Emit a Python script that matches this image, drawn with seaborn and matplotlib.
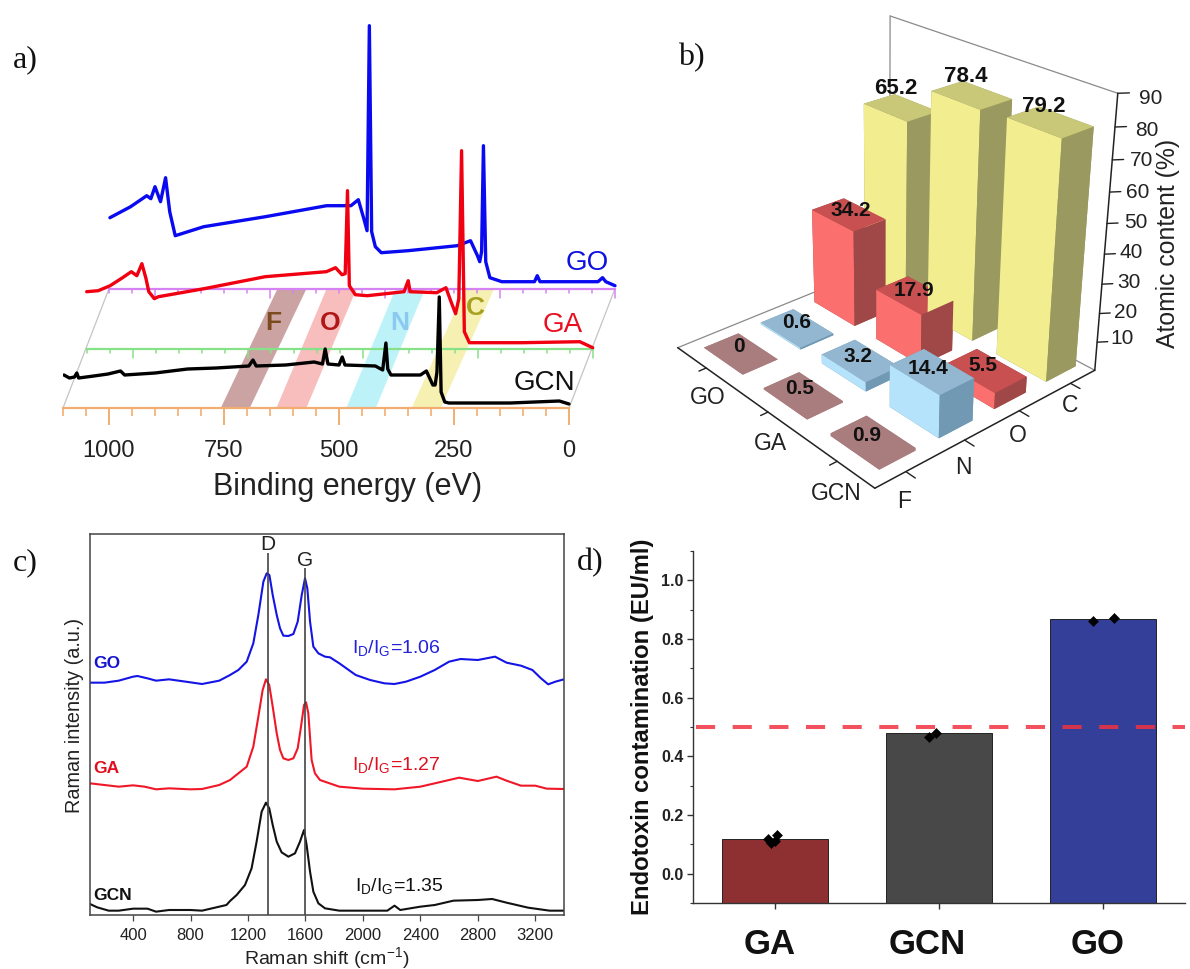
import numpy as np
import pandas as pd
import matplotlib
matplotlib.use('Agg')
import matplotlib.pyplot as plt
from matplotlib.ticker import MultipleLocator, FixedLocator
from matplotlib.transforms import ScaledTranslation
import seaborn as sns

sns.set_theme(style='white')
plt.rcParams['font.family'] = ['Liberation Sans', 'DejaVu Sans']
plt.rcParams['mathtext.default'] = 'regular'

W, H = 1190, 969
fig = plt.figure(figsize=(W / 100, H / 100), dpi=100, facecolor='white')

def place(l, t, r, b, **kw):
    return fig.add_axes([l / W, 1 - b / H, (r - l) / W, (b - t) / H], **kw)

def label(px, py, s, **kw):
    kw.setdefault('ha', 'center')
    kw.setdefault('va', 'center')
    return fig.text(px / W, 1 - py / H, s, **kw)

# ---------- panel a data: binding energy (eV), intensity (a.u.)
gcn_be = [1098,1086,1075,1070,1066,1033,1002,975,966,900,829,767,696,687,680,616,554,536,530,524,500,493,487,421,405,398,394,387,323,310,296,291,287,282,278,270,261,128,21,0]
gcn_xps = [33,30,31,35,30,32,34,37,33,35,39,40,42,48,42,43,46,44,59,44,43,51,43,42,38,65,39,33,33,37,23,23,36,111,16,6,5,5,7,4]
ga_be = [1100,1075,1049,1022,1003,991,980,971,965,953,944,845,712,579,559,545,538,533,529,516,490,410,401,397,339,319,308,298,291,285,279,268,153,28,0]
ga_xps = [57,58,63,71,77,73,85,70,57,50,52,60,72,77,81,74,75,158,63,54,53,57,68,57,56,61,47,35,50,198,17,6,6,7,1]
go_be = [1098,1053,1018,1009,1000,988,977,968,956,894,760,627,574,558,546,539,534,529,521,508,450,343,314,299,294,290,286,281,272,246,175,169,163,37,27,20,0]
go_xps = [71,82,93,90,102,87,111,77,53,62,72,83,83,89,70,58,263,57,42,36,38,43,48,33,27,37,143,27,11,7,7,13,7,7,11,7,3]
layer_names = ['GCN', 'GA', 'GO']
layer_shift_be = [0, -51.5, -100]
layer_shift_int = [0, 59.3, 119.3]
band_names = ['F', 'O', 'N', 'C']
band_low = [694, 571, 420, 279]
band_high = [757, 636, 484, 342]
band_top_shift = [122, 108, 106, 115]
a_ticks = [0, 250, 500, 750, 1000]
a_minor = list(range(0, 1101, 50))

# ---------- panel b data
b_rows = ['GCN', 'GA', 'GO']
b_cols = ['F', 'N', 'O', 'C']
b_gcn = [0.9, 14.4, 5.5, 79.2]
b_ga = [0.5, 3.2, 17.9, 78.4]
b_go = [0.0, 0.6, 34.2, 65.2]

# ---------- panel c data: Raman shift (cm-1), intensity (a.u.)
go_wn = [100,200,300,400,430,500,560,650,750,880,1000,1075,1133,1191,1237,1272,1307,1330,1349,1372,1400,1423,1446,1481,1516,1546,1574,1597,1613,1632,1655,1690,1736,1771,1836,1950,2050,2150,2220,2300,2400,2500,2600,2680,2800,2920,3000,3100,3180,3240,3290,3340,3400]
go_ram = [697,697,703,715,717,710,703,707,701,693,703,720,735,760,815,900,1000,1025,1020,960,900,860,838,837,843,880,960,1010,980,880,805,785,775,773,755,720,705,695,693,700,715,735,760,768,765,775,757,748,735,710,692,700,707]
ga_wn = [100,200,300,400,480,560,650,800,880,1000,1075,1133,1191,1237,1272,1302,1325,1348,1372,1400,1423,1446,1481,1516,1546,1569,1590,1604,1620,1643,1666,1701,1748,1836,2000,2220,2400,2550,2670,2800,2930,3000,3100,3200,3280,3400]
ga_ram = [395,390,385,389,385,377,380,377,378,390,405,425,445,505,595,675,707,690,625,545,495,470,465,470,500,565,630,638,605,465,425,405,398,385,379,377,385,400,412,402,415,403,388,388,379,378]
gcn_wn = [100,150,230,300,400,500,560,650,800,880,950,1050,1075,1121,1179,1225,1260,1295,1325,1348,1372,1400,1434,1481,1527,1562,1590,1608,1632,1655,1690,1736,1836,2000,2170,2220,2260,2400,2500,2630,2800,2900,3000,3150,3300,3400]
gcn_ram = [33,23,13,13,19,19,10,15,15,13,20,30,42,60,90,140,220,310,337,320,270,220,188,175,185,220,255,210,130,70,35,20,13,13,13,28,15,25,30,43,45,48,37,22,13,13]
c_ticks = [400, 800, 1200, 1600, 2000, 2400, 2800, 3200]
ratios = ['1.06', '1.27', '1.35']

# ---------- panel d data
d_samples = ['GA', 'GCN', 'GO']
d_means = [0.117, 0.478, 0.869]
d_colors = ['#8E3032', '#484848', '#333F99']
d_px = [-0.041, -0.022, 0.0, 0.014, 0.94, 0.983, 1.94, 2.065]
d_py = [0.119, 0.103, 0.111, 0.131, 0.465, 0.479, 0.862, 0.870]
d_limit = 0.5

SERIF = ['Liberation Serif', 'DejaVu Serif']
for (x, y, s) in [(13, 60, 'a)'), (678, 58, 'b)'), (13, 563, 'c)'), (577, 563, 'd)')]:
    label(x, y, s, ha='left', family=SERIF, fontsize=23, color='#111111')

# ================= panel a
ax = place(63, 20, 620, 408)
ax.patch.set_alpha(0)
ax.set_xlim(1100, -110.9)
ax.set_ylim(0, 388)
for name in ['top', 'left', 'right']:
    ax.spines[name].set_visible(False)
ORANGE = '#F2AE72'
ax.spines['bottom'].set_color(ORANGE)
ax.spines['bottom'].set_linewidth(1.6)
ax.spines['bottom'].set_bounds(0, 1100)
ax.set_yticks([])
ax.set_xticks(a_ticks)
ax.xaxis.set_minor_locator(FixedLocator(a_minor))
ax.tick_params(axis='x', which='major', length=12, width=1.4, color=ORANGE, labelsize=17,
               labelcolor='#222222', pad=11, bottom=True)
ax.tick_params(axis='x', which='minor', length=6, width=1.2, color=ORANGE, bottom=True)
label(348, 487, 'Binding energy (eV)', fontsize=22, color='#222222')

band_cols = ['#CBA3A3', '#F8BDBD', '#BDF3F8', '#F6F1B2']
band_txt = ['#7B4A1E', '#B01818', '#8CC8F0', '#A8A020']
band_pos = [(642, 85), (519, 85), (368, 85), (204, 100)]
for lo, hi, sh, c, name, tc, (tx, ty) in zip(band_low, band_high, band_top_shift, band_cols, band_names, band_txt, band_pos):
    ax.fill([lo, hi, hi - sh, lo - sh], [0, 0, 118, 118], color=c, lw=0, zorder=1)
    ax.text(tx, ty, name, color=tc, fontsize=19, fontweight='bold', ha='center', va='center', zorder=5)

for sb, si, col in [(layer_shift_be[1], layer_shift_int[1], '#86E288'), (layer_shift_be[2], layer_shift_int[2], '#D583F2')]:
    ax.plot([1100 + sb, sb], [si, si], color=col, lw=1.6, zorder=2)
    for t in a_minor:
        ln = 9 if t % 250 == 0 else 4
        ax.plot([t + sb, t + sb], [si, si - ln], color=col, lw=1.1, zorder=2)
ax.plot([1100, 1000], [0, 119.3], color='#C4C4C4', lw=0.9, zorder=1)
ax.plot([0, -100], [0, 119.3], color='#C4C4C4', lw=0.9, zorder=1)

xps = [(gcn_be, gcn_xps, 'black', 5), (ga_be, ga_xps, '#F00010', 4), (go_be, go_xps, '#0A0AF0', 3)]
for (be, val, col, z), sb, si in zip(xps, layer_shift_be, layer_shift_int):
    d = pd.DataFrame({'be': np.array(be) + sb, 'val': np.array(val) + si})
    sns.lineplot(data=d, x='be', y='val', sort=False, estimator=None, color=col, lw=2.4, ax=ax, zorder=z)
ax.set_xlabel('')
ax.set_ylabel('')
ax.text(-39, 145, 'GO', color='#1010E0', fontsize=20, ha='center', va='center')
ax.text(13, 83, 'GA', color='#E81020', fontsize=20, ha='center', va='center')
ax.text(54, 25, 'GCN', color='#111111', fontsize=20, ha='center', va='center')

# ================= panel b
VL, VB, VS = 616.3, 473.2, 519.8
ax3 = fig.add_axes([VL / W, VB / H, VS / W, VS / H], projection='3d')
ax3.patch.set_alpha(0)
ax3.set_axis_off()
ax3.set_xlim(0, 4)
ax3.set_ylim(0, 3)
ax3.set_zlim(0, 90)
ax3.view_init(26.24, -131.10)
ax3.set_proj_type('persp', focal_length=0.4713)
ax3.set_box_aspect((0.988, 1.057, 1.0))

G_BACK = '#8A8A8A'
ax3.computed_zorder = False
for seg in [((4,3,0),(4,3,90)), ((4,3,90),(4,0,90)), ((0,3,0),(4,3,0)), ((4,0,0),(4,3,0))]:
    ax3.plot(*zip(*seg), color=G_BACK, lw=0.9, zorder=1)
for seg in [((0,3,0),(0,0,0)), ((0,0,0),(4,0,0)), ((4,0,0),(4,0,90))]:
    ax3.plot(*zip(*seg), color='#222222', lw=1.1, zorder=2)
for i in range(4):
    ax3.plot([i + .5, i + .5], [0, -0.12], [0, 0], color='#222222', lw=1, zorder=2)
for j in range(3):
    ax3.plot([0, -0.12], [j + .5, j + .5], [0, 0], color='#222222', lw=1, zorder=2)
for zt in range(10, 91, 10):
    ax3.plot([4, 4.12], [0, -0.06], [zt, zt], color='#222222', lw=1, zorder=2)

face_light = ['#A97C7E', '#B5E3FB', '#FB6F6F', '#F2EE90']
face_top = ['#A97C7E', '#93B7D0', '#C85050', '#C8C878']
face_dark = ['#A97C7E', '#7299B4', '#A04848', '#9A9A60']
bx, by, bz, fc = [], [], [], []
DX, DY = 0.60, 0.66
for j, rowv in enumerate([b_gcn, b_ga, b_go]):
    for i, v in enumerate(rowv):
        bx.append(i + .58 - DX / 2); by.append(j + .5 - DY / 2); bz.append(v)
        # order: bottom, top, -y, +y, -x, +x
        fc += [face_dark[i], face_top[i], face_dark[i], face_dark[i], face_light[i], face_dark[i]]
ax3.bar3d(bx, by, np.zeros(len(bx)), DX, DY, bz, color=fc, shade=False, zorder=3, edgecolor='none', linewidth=0)

vals = [(896,88,'65.2',16),(966,77,'78.4',16),(1043.5,106,'79.2',16),(851,210,'34.2',15),(914,290,'17.9',15),
        (797,323,'0.6',15),(739,347,'0',15),(858,357,'3.2',15),(928,369,'14.4',15),(983,366,'5.5',15),(800,388,'0.5',15),(867,435,'0.9',15)]
for x, y, s_, fs in vals:
    label(x, y, s_, fontsize=fs, fontweight='bold', color='#111111', zorder=20)
for x, y, s_ in [(708,397,'GO'),(770,443,'GA'),(836,493,'GCN'),(904,502,'F'),(963,468,'N'),(1018,436,'O'),(1070,406,'C')]:
    label(x, y, s_, fontsize=16.5, color='#222222', zorder=20)
for x, y, s_ in [(1150.5,98,'90'),(1147,131,'80'),(1142,161,'70'),(1138,193,'60'),(1136,223,'50'),(1131,253,'40'),(1129,283,'30'),(1126,312,'20'),(1122,338,'10')]:
    label(x, y, s_, fontsize=15, color='#222222', zorder=20)
label(1168, 243, 'Atomic content (%)', rotation=90, fontsize=17.8, color='#222222', zorder=20)

# ================= panel c
axc = place(90, 534, 564, 915)
for sp in axc.spines.values():
    sp.set_color('#444444'); sp.set_linewidth(1.1)
for wn, val, col in [(go_wn, go_ram, '#1414E6'), (ga_wn, ga_ram, '#F01828'), (gcn_wn, gcn_ram, '#111111')]:
    d = pd.DataFrame({'wn': wn, 'val': val})
    sns.lineplot(data=d, x='wn', y='val', sort=False, estimator=None, color=col, lw=1.5, ax=axc)
axc.set_xlim(100, 3400)
axc.set_ylim(0, 1143)
axc.vlines([1338], 0, 1085, color='#444444', lw=1.2)
axc.vlines([1599], 0, 1040, color='#444444', lw=1.2)
axc.text(1338, 1110, 'D', ha='center', va='center', fontsize=15, color='#222222')
axc.text(1599, 1065, 'G', ha='center', va='center', fontsize=15, color='#222222')
axc.set_xticks(c_ticks)
axc.set_yticks([])
axc.tick_params(axis='x', labelsize=12, labelcolor='#222222', length=4.5, width=0.9, color='#444444', pad=5, bottom=True)
axc.set_xlabel('')
axc.set_ylabel('')
label(327, 958, 'Raman shift (cm$^{-1}$)', fontsize=14, color='#222222')
label(74.5, 715, 'Raman intensity (a.u.)', rotation=90, fontsize=14.3, color='#222222')
for name, yy, col in [('GO', 753, '#1414D0'), ('GA', 440, '#E01020'), ('GCN', 60, '#111111')]:
    axc.text(124, yy, name, color=col, fontsize=12.5, fontweight='bold', va='center', ha='left')
for r, xx, yy, col in zip(ratios, [1925, 1925, 1943], [800, 450, 87], ['#2222DD', '#E01020', '#111111']):
    axc.text(xx, yy, 'I$_{D}$/I$_{G}$=' + r, color=col, fontsize=14, va='center', ha='left')

# ================= panel d
axd = place(693, 551, 1185, 903)
dd = pd.DataFrame({'sample': d_samples, 'mean': d_means})
sns.barplot(data=dd, x='sample', y='mean', hue='sample', palette=d_colors, legend=False,
            width=0.643, saturation=1, edgecolor='#222222', linewidth=0.7, ax=axd)
axd.set_ylim(-0.1, 1.1)
for bar in axd.patches:
    top = bar.get_height()
    bar.set_y(-0.1)
    bar.set_height(top + 0.1)
sns.scatterplot(x=d_px, y=d_py, marker='D', color='black', s=26, edgecolor='black', ax=axd, zorder=5)
axd.axhline(d_limit, xmin=0.006, color=(0.94, 0.2, 0.25, 0.85), lw=2.9, dashes=(4.75, 4.35), zorder=6)
axd.set_xlim(-0.5, 2.5)
axd.set_ylim(-0.1, 1.1)
axd.set_xlabel('')
axd.set_ylabel('')
for name in ['top', 'right']:
    axd.spines[name].set_visible(False)
for name in ['left', 'bottom']:
    axd.spines[name].set_color('#333333'); axd.spines[name].set_linewidth(1.0)
axd.set_yticks([0, 0.2, 0.4, 0.6, 0.8, 1.0])
axd.yaxis.set_minor_locator(MultipleLocator(0.1))
axd.tick_params(axis='y', which='major', length=4, width=1, color='#333333', left=True, labelsize=11.5, pad=3)
axd.tick_params(axis='y', which='minor', length=2.5, width=0.8, color='#333333', left=True)
axd.tick_params(axis='x', length=4, width=1, color='#333333', bottom=True, labelsize=25, pad=14)
for t in axd.get_yticklabels():
    t.set_fontweight('bold'); t.set_color('#222222')
for t, off in zip(axd.get_xticklabels(), [-5, -12, -5]):
    t.set_fontweight('bold'); t.set_color('#111111')
    t.set_transform(t.get_transform() + ScaledTranslation(off / 100, 0, fig.dpi_scale_trans))
label(643, 727, 'Endotoxin contamination (EU/ml)', rotation=90, fontsize=17.2, fontweight='bold', color='#111111')

fig.savefig('out.png', dpi=100, facecolor='white')
